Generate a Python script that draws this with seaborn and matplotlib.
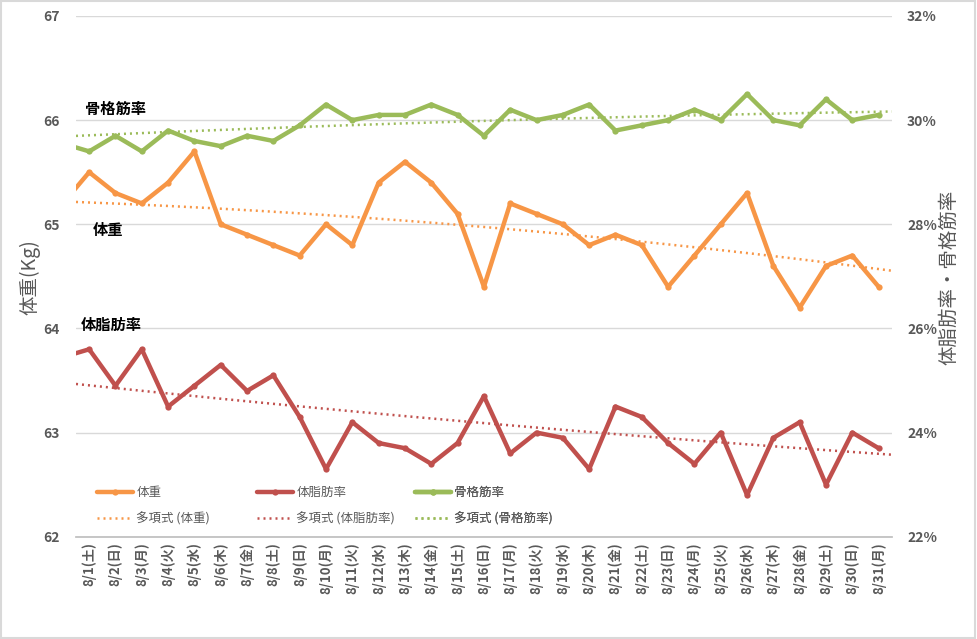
import numpy as np
import pandas as pd
import matplotlib
matplotlib.use("Agg")
import matplotlib.pyplot as plt
import seaborn as sns
from matplotlib.lines import Line2D
from matplotlib.patches import Rectangle

# ---- data ----
dates = ["7/31(金)",
         "8/1(土)", "8/2(日)", "8/3(月)", "8/4(火)", "8/5(水)", "8/6(木)", "8/7(金)",
         "8/8(土)", "8/9(日)", "8/10(月)", "8/11(火)", "8/12(水)", "8/13(木)", "8/14(金)",
         "8/15(土)", "8/16(日)", "8/17(月)", "8/18(火)", "8/19(水)", "8/20(木)", "8/21(金)",
         "8/22(土)", "8/23(日)", "8/24(月)", "8/25(火)", "8/26(水)", "8/27(木)", "8/28(金)",
         "8/29(土)", "8/30(日)", "8/31(月)"]
weight = [65.2,
          65.5, 65.3, 65.2, 65.4, 65.7, 65.0, 64.9, 64.8, 64.7, 65.0, 64.8, 65.4, 65.6, 65.4,
          65.1, 64.4, 65.2, 65.1, 65.0, 64.8, 64.9, 64.8, 64.4, 64.7, 65.0, 65.3, 64.6, 64.2,
          64.6, 64.7, 64.4]
body_fat = [25.45,
            25.6, 24.9, 25.6, 24.5, 24.9, 25.3, 24.8, 25.1, 24.3, 23.3, 24.2, 23.8, 23.7, 23.4,
            23.8, 24.7, 23.6, 24.0, 23.9, 23.3, 24.5, 24.3, 23.8, 23.4, 24.0, 22.8, 23.9, 24.2,
            23.0, 24.0, 23.7]
muscle = [29.55,
          29.4, 29.7, 29.4, 29.8, 29.6, 29.5, 29.7, 29.6, 29.9, 30.3, 30.0, 30.1, 30.1, 30.3,
          30.1, 29.7, 30.2, 30.0, 30.1, 30.3, 29.8, 29.9, 30.0, 30.2, 30.0, 30.5, 30.0, 29.9,
          30.4, 30.0, 30.1]

# polynomial trend lines (at 8/1, 8/11, 8/21, 8/31)
trend_days = [0, 10, 20, 30]
trend_weight = [65.21, 65.07, 64.86, 64.57]
trend_fat = [24.90, 24.43, 23.95, 23.60]
trend_muscle = [29.71, 29.90, 30.06, 30.16]

c_w, c_f, c_m = "#F79646", "#C0504D", "#9BBB59"
gray = "#595959"

sns.set_theme(style="white")
plt.rcParams["font.family"] = ["Noto Sans CJK JP", "DejaVu Sans"]

df = pd.DataFrame({"idx": np.arange(-1, len(dates) - 1), "date": dates,
                   "体重": weight, "体脂肪率": body_fat, "骨格筋率": muscle})
main = df[df["idx"] >= 0]

fig = plt.figure(figsize=(9.77, 6.39), dpi=100)
ax = fig.add_axes([0.0778, 0.160, 0.835, 0.815])
ax2 = ax.twinx()

lw = 3.2
ms = 4.5
dot = (0, (0.8, 1.6))
sns.lineplot(data=df, x="idx", y="体重", ax=ax, color=c_w, lw=lw, marker="o",
             markersize=ms, markeredgewidth=0, legend=False)
sns.lineplot(data=df, x="idx", y="体脂肪率", ax=ax2, color=c_f, lw=lw, marker="o",
             markersize=ms, markeredgewidth=0, legend=False)
sns.lineplot(data=df, x="idx", y="骨格筋率", ax=ax2, color=c_m, lw=lw, marker="o",
             markersize=ms, markeredgewidth=0, legend=False)

xs = np.linspace(-0.5, 30.5, 200)
for vals, axis, c in [(trend_weight, ax, c_w), (trend_fat, ax2, c_f), (trend_muscle, ax2, c_m)]:
    p = np.polyfit(trend_days, vals, 2)
    tdf = pd.DataFrame({"x": xs, "y": np.polyval(p, xs)})
    sns.lineplot(data=tdf, x="x", y="y", ax=axis, color=c, lw=1.8,
                 linestyle=dot, legend=False)

ax.set_xlim(-0.5, 30.5)
ax.set_ylim(62, 67)
ax2.set_ylim(22, 32)
ax.set_yticks(range(62, 68))
ax2.set_yticks(range(22, 33, 2))
ax2.set_yticklabels([f"{v}%" for v in range(22, 33, 2)])
ax.set_xticks(main["idx"])
ax.set_xticklabels(main["date"], rotation=90, fontsize=9.5, fontweight="bold", color=gray)
ax.set_xticks(np.arange(-0.5, 31, 1), minor=True)
ax.tick_params(axis="x", which="major", length=0, pad=4)
ax.tick_params(axis="x", which="minor", length=5, color="#BFBFBF", width=1, direction="out")
ax.tick_params(axis="y", length=0, labelsize=10, labelcolor=gray, pad=12)
ax2.tick_params(axis="y", length=0, labelsize=10, labelcolor=gray, pad=11)
for lab in ax.get_yticklabels() + ax2.get_yticklabels():
    lab.set_fontweight("bold")

ax.grid(axis="y", color="#D9D9D9", lw=1)
ax.set_axisbelow(True)
for a in (ax, ax2):
    for s in ["top", "right", "left", "bottom"]:
        a.spines[s].set_visible(False)
ax.spines["bottom"].set_visible(True)
ax.spines["bottom"].set_color("#BFBFBF")

ax.set_xlabel("")
ax.set_ylabel("")
ax2.set_ylabel("")
fig.text(30 / 977, 1 - 277 / 639, "体重(Kg)", rotation=90, ha="center", va="center",
         fontsize=14, color=gray)
fig.text(949 / 977, 1 - 277 / 639, "体脂肪率・骨格筋率", rotation=90, ha="center", va="center",
         fontsize=14, color=gray)

# series labels
ax.text(0.011, 0.821, "骨格筋率", transform=ax.transAxes, fontsize=11, fontweight="bold",
        color="black", va="center")
ax.text(0.02, 0.589, "体重", transform=ax.transAxes, fontsize=11, fontweight="bold",
        color="black", va="center")
ax.text(0.006, 0.407, "体脂肪率", transform=ax.transAxes, fontsize=11, fontweight="bold",
        color="black", va="center")

# legend: three columns placed like the original
cols = [(c_w, "体重", 0.0257), (c_f, "体脂肪率", 0.222), (c_m, "骨格筋率", 0.415)]
for c, name, xpos in cols:
    hs = [Line2D([], [], color=c, lw=lw, marker="o", markersize=ms, markeredgewidth=0),
          Line2D([], [], color=c, lw=1.8, linestyle=dot)]
    lg = ax2.legend(hs, [name, f"多項式 ({name})"], loc="upper left",
                    bbox_to_anchor=(xpos, 0.097), borderaxespad=0, borderpad=0,
                    frameon=False, fontsize=9, handlelength=2.9, handletextpad=0.25,
                    labelspacing=1.05)
    for t in lg.get_texts():
        t.set_color(gray)
    ax2.add_artist(lg)

fig.patches.append(Rectangle((0.001, 0.001), 0.997, 0.997, transform=fig.transFigure,
                             fill=False, edgecolor="#D9D9D9", lw=1.5))

fig.savefig("out.png", dpi=100)
